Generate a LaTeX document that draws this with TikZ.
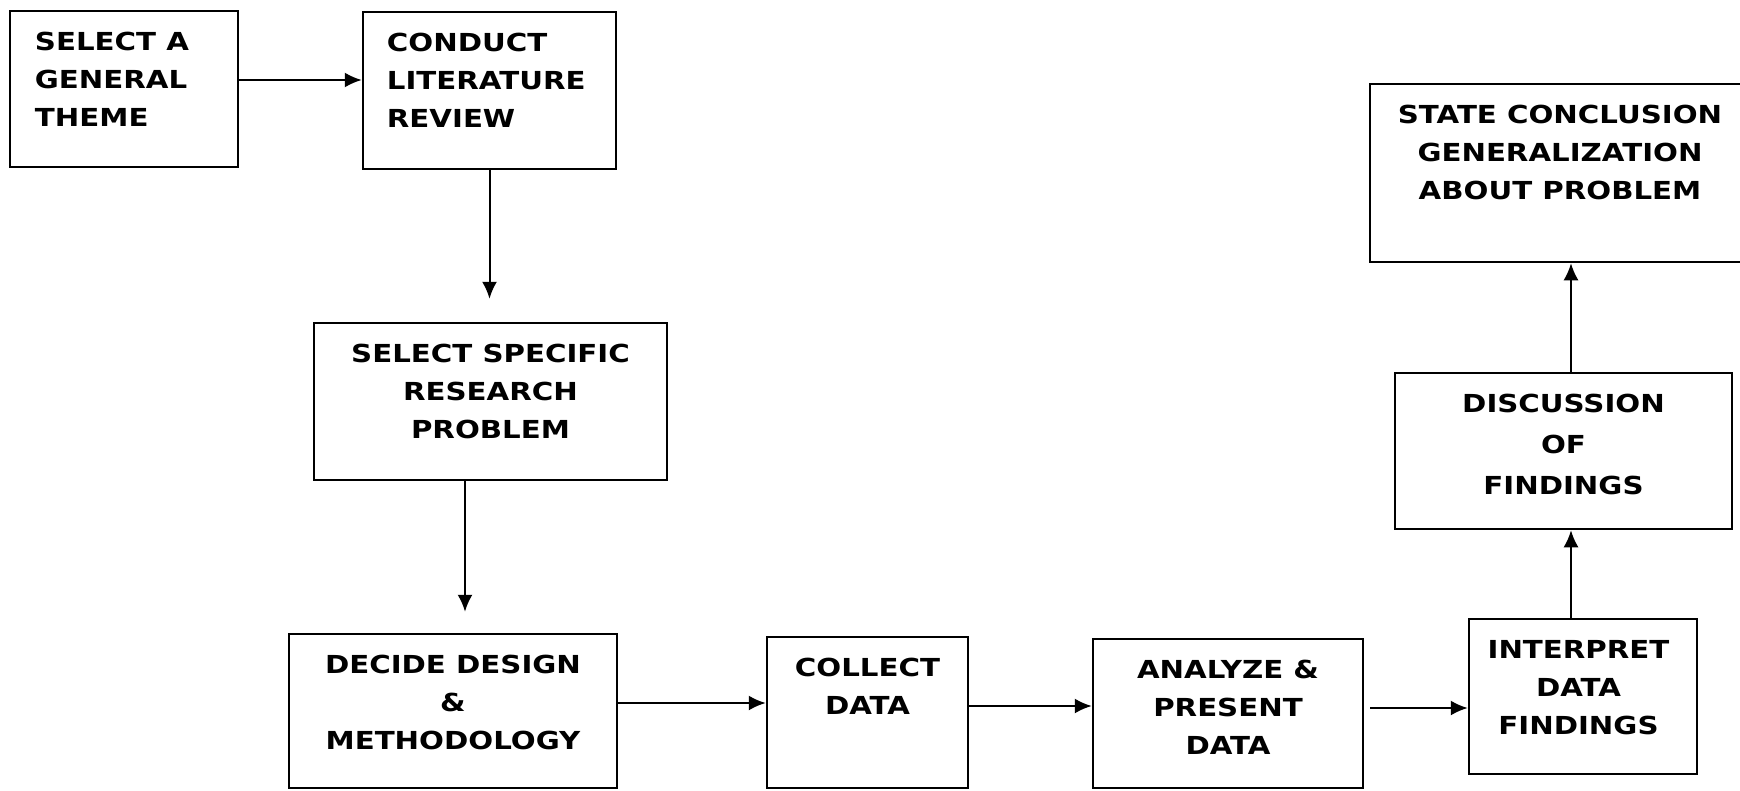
\documentclass[tikz,border=0pt]{standalone}
\usepackage{fontspec}
\usetikzlibrary{positioning,arrows.meta}
\newfontfamily\boxfont[FakeStretch=1.18]{DejaVu Sans}

\tikzset{
  box/.style 2 args={draw=black,line width=2.5pt,inner sep=0pt,
    minimum width=#1,minimum height=#2},
  txt/.style={inner sep=0pt,align=center,
    font=\boxfont\bfseries\fontsize{24.8}{38}\selectfont},
  flow/.style={-{Latex[length=17pt,width=15pt]},line width=2pt}
}

\begin{document}
\begin{tikzpicture}[x=1pt,y=-1pt]
        \useasboundingbox (0,0) rectangle (1740,790) ;
        % top row
        \node[box={228pt}{156pt}] (theme) at (124,89) {} ;
        \node[txt,align=left,below right=22pt and 26pt of theme.north west] (theme-txt)
        {SELECT A\\GENERAL\\THEME} ;
        \node[box={253pt}{157pt}] (review) at (489.5,90.5) {} ;
        \node[txt,align=left,below right=22pt and 25pt of review.north west] (review-txt)
        {CONDUCT\\LITERATURE\\REVIEW} ;
        \node[box={353pt}{157pt}] (problem) at (490.5,401.5) {} ;
        \node[txt,below=22pt of problem.north] (problem-txt)
        {SELECT SPECIFIC\\RESEARCH\\PROBLEM} ;
        % bottom row
        \node[box={328pt}{154pt}] (design) at (453,711) {} ;
        \node[txt,below=22pt of design.north] (design-txt)
        {DECIDE DESIGN\\\&\\METHODOLOGY} ;
        \node[box={201pt}{151pt}] (collect) at (867.5,712.5) {} ;
        \node[txt,below=22pt of collect.north] (collect-txt)
        {COLLECT\\DATA} ;
        \node[box={270pt}{149pt}] (analyze) at (1228,713.5) {} ;
        \node[txt,below=22pt of analyze.north] (analyze-txt)
        {ANALYZE \&\\PRESENT\\DATA} ;
        \node[box={228pt}{155pt}] (interpret) at (1583,696.5) {} ;
        \node[txt,below=22pt of interpret.north,xshift=-4.5pt] (interpret-txt)
        {INTERPRET\\DATA\\FINDINGS} ;
        % right column
        \node[box={337pt}{156pt}] (discussion) at (1563.5,451) {} ;
        \node[txt,font=\boxfont\bfseries\fontsize{24.8}{41}\selectfont,
        below=22pt of discussion.north] (discussion-txt)
        {DISCUSSION\\OF\\FINDINGS} ;
        \node[box={390pt}{178pt}] (conclusion) at (1565,173) {} ;
        \node[txt,below=22pt of conclusion.north,xshift=-5pt] (conclusion-txt)
        {STATE CONCLUSION\\GENERALIZATION\\ABOUT PROBLEM} ;
        % connectors
        \draw[flow] ([yshift=9pt]theme.east) -- ([yshift=9pt]theme.east -| review.west) ;
        \draw[flow,shorten >=23pt] (review.south) -- (review.south |- problem.north) ;
        \draw[flow,shorten >=21pt] ([xshift=-25.5pt]problem.south)
        -- ([xshift=-25.5pt]problem.south |- design.north) ;
        \draw[flow] ([yshift=8pt]design.east) -- ([yshift=8pt]design.east -| collect.west) ;
        \draw[flow] ([yshift=6.5pt]collect.east) -- ([yshift=6.5pt]collect.east -| analyze.west) ;
        \draw[flow,shorten <=6pt] ([yshift=5.5pt]analyze.east)
        -- ([yshift=5.5pt]analyze.east -| interpret.west) ;
        \draw[flow] ([xshift=-12pt]interpret.north)
        -- ([xshift=-12pt]interpret.north |- discussion.south) ;
        \draw[flow] ([xshift=7.5pt]discussion.north)
        -- ([xshift=7.5pt]discussion.north |- conclusion.south) ;
\end{tikzpicture}
\end{document}
